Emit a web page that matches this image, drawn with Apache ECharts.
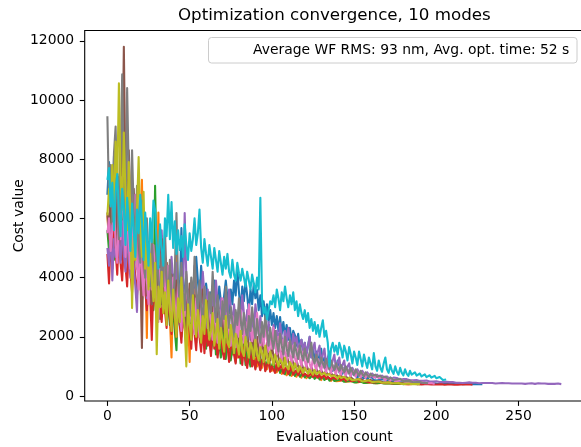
<!DOCTYPE html>
<html>
<head>
<meta charset="utf-8">
<script src="https://cdn.jsdelivr.net/npm/echarts@6/dist/echarts.min.js"></script>
<style>html,body{margin:0;padding:0;background:#fff;}#chart{width:581px;height:447px;}</style>
</head>
<body>
<div id="chart"></div>
<script>
const chartTitle = 'Optimization convergence, 10 modes';
const legendText = 'Average WF RMS: 93 nm, Avg. opt. time: 52 s';
const xLabel = 'Evaluation count';
const yLabel = 'Cost value';
const xTicks = [0, 50, 100, 150, 200, 250];
const yTicks = [0, 2000, 4000, 6000, 8000, 10000, 12000];
const colors = ['#1f77b4','#ff7f0e','#2ca02c','#d62728','#9467bd','#8c564b','#e377c2','#7f7f7f','#bcbd22','#17becf'];

const mode1 = [6800,7900,6200,5400,8100,6600,5200,7400,5800,4600,6900,5600,4900,6300,5300,4400,5900,5100,4300,5600,
4200,5300,3900,4800,3600,5100,4200,3400,4700,3900,3300,4400,3700,3100,4600,3800,3200,4300,3500,3000,
4100,3400,2900,3900,3300,5670,4000,3500,2800,3600,3100,2600,3700,3200,4700,3900,3300,4400,3600,3000,
3800,3300,2700,3500,3000,3900,3400,2800,3700,3200,2600,3400,3900,3300,2800,3600,3100,3900,3400,4300,
3500,2900,3700,3200,3900,3400,2800,3600,3100,3800,3300,3580,2900,3400,2700,3200,2600,3100,2500,2900,
2400,2800,2300,2700,2200,2670,2100,2500,2000,2400,1900,2300,1800,2200,2060,1700,2100,1600,1900,1500,
1800,1400,1700,2000,1300,1600,1200,1500,1100,1400,1600,1000,1300,900,1200,1000,1100,850,1000,900,
1200,800,1000,750,950,700,900,800,650,850,700,800,600,750,650,700,600,680,560,640,
580,620,540,600,520,580,560,500,560,520,540,480,520,500,480,520,470,500,460,490,
470,500,450,480,460,440,470,450,430,460,440,450,430,450,420,440,430,420,440,430,
420,440,410,430,420,410,430,420,410,420,430,410,420,400,420,410,400,420,410,400,410,420,400,410,400,410,400,410,400];

const mode2 = [6100,5200,7000,5800,4900,6600,5400,7300,6000,5100,6800,5500,7300,4800,6200,5300,4500,5900,6800,4300,
5600,7300,3900,4800,1960,5200,4100,3000,4600,3600,3200,6200,3100,5400,3800,2900,4500,3400,2600,1300,
3900,3000,4800,3300,2500,4100,3200,2400,3700,2800,1150,3300,2300,3600,2700,2000,3400,2600,2100,3200,
2500,3100,1900,2300,2800,1800,2100,1700,2600,2200,1600,2000,2400,1500,1900,2300,1400,1800,1700,1300,
2000,1600,1300,1800,1900,1200,1500,1400,1100,1700,1300,1000,1600,1200,950,1300,1100,900,1400,1000,
850,1150,950,800,1100,880,750,1000,850,700,950,1050,680,800,750,650,900,700,620,780,
680,600,740,640,580,720,620,560,640,600,540,660,570,520,600,550,510,580,530,500,
560,510,490,540,500,480,520,490,470,510,480,460,500,470,450,490,460,440,480,450,
440,470,440,430,460,430,420,450,430,420,440,420,410,430,420,410,430,410,400,420,410,400,410,400,410,400];

const mode3 = [5600,4900,6300,5200,4600,6800,5400,4700,7600,5800,5000,6500,5300,4400,6100,5000,4200,5700,4600,3900,
5300,4300,3600,5000,4000,3400,4700,3700,2900,7100,4200,3300,2600,4400,3500,2800,3900,3100,2400,3700,
2900,2200,1550,3400,2700,2000,3200,2500,1900,3500,2800,2100,3300,2400,1800,3000,2300,1700,2800,2200,
1600,2300,2700,1500,1900,2500,1400,2100,1800,1300,2400,1700,1250,1900,2200,1200,1600,2000,1150,1700,
1900,1100,1400,1800,1050,1500,1250,1000,1700,1150,950,1300,1500,900,1200,1400,880,1100,1300,850,
1000,1200,820,950,1100,780,900,850,740,1000,800,700,850,930,680,760,850,650,720,800,
630,700,760,600,660,720,580,640,690,560,600,650,540,580,620,520,560,600,510,550,
530,500,560,510,480,530,500,470,510,480,460,500,470,450,490,460,440,480,450,440,
470,440,430,460,430,420,450,430,420,440,420,410,430,420,410,430,410,400,420,410,400,410,420,400,410,400,410,400,410,400];

const mode4 = [4800,3800,5400,4300,6000,4900,4100,5600,4500,3900,5200,4400,3700,5000,4200,3500,4700,4000,3400,4500,
3800,3200,4300,3600,2900,4100,3400,1890,3900,3200,2700,3800,3000,2500,3600,2900,2300,3400,2700,2100,
3300,2600,2000,3100,2400,1800,2900,2300,1700,2800,2200,1600,2700,2100,1550,2600,2000,1500,2400,1450,
2300,1700,1900,1350,2400,1600,2000,1300,1800,2200,1500,1250,1900,1700,1150,1600,2100,1400,1100,1750,
1300,1500,1050,1650,1200,950,1400,1550,1000,1250,900,1350,1100,870,1200,1300,840,1050,1150,820,
1000,960,780,1150,860,800,1050,760,900,980,740,850,1000,720,800,880,700,760,900,680,
760,820,660,700,780,640,720,680,620,740,600,660,700,580,650,610,560,640,590,570,
550,620,530,570,600,510,550,580,500,540,520,490,560,480,500,530,470,490,510,470,
470,460,490,460,450,480,450,440,470,440,430,460,430,420,450,430,420,440,420,410,
430,410,420,400,420,410,400,410,420,400,410,390,410,400,390,400,410,390,400,390,
400,390,380,400,390,380,400,390,380,390,400,380,390,380,400,390,380,390,380,390,380,390,380];

const mode5 = [5000,4400,5800,3900,5300,4700,6200,5100,4500,5900,4800,4200,5600,4600,4000,5300,4400,3700,2840,4900,
4100,3500,5200,4300,3300,4800,3900,3100,4600,3700,2900,4400,3500,5600,4200,3300,2700,4000,3200,4700,
3800,3000,4500,3600,2800,4300,3400,6180,4000,3200,2600,3900,3100,4400,3600,2800,3700,2900,4200,3400,
2700,3600,2900,2300,3400,2800,3900,3200,2500,3300,2700,2200,3200,2600,3600,3000,2400,3100,2500,2000,
3000,2400,3400,2800,2200,2900,2300,1900,2800,2200,3100,2600,2100,2700,2100,1800,2600,2000,2500,2100,
1700,2400,1900,2200,1800,2460,2000,1600,2200,1800,2300,1900,1500,2100,1700,2000,1600,1720,1900,1500,
1800,1400,1700,2000,1300,1600,1800,1200,1500,1700,1100,1400,1600,1000,1300,1500,950,1200,1400,900,
1100,1300,850,1050,1200,800,1000,1100,760,950,1000,720,900,950,690,850,880,660,800,820,
640,760,770,620,720,720,600,690,680,580,660,650,570,630,620,560,610,590,550,590,
570,540,570,550,530,550,530,520,540,520,510,530,510,500,520,500,490,510,490,480,
500,480,470,490,470,460,480,460,470,450,470,460,450,470,450,460,440,460,450,440,
460,440,450,430,450,440,430,450,440,430,440,430,440,420,440,430,420,440,430,420,
440,420,430,420,430,440,420,430,420,430,420,440,420,430,410,430,420,410,430,420,
410,420,430,410,420,410,420,430,410,420,410,420,410,400,420,410,400];

const mode6 = [6200,5300,7100,5800,6600,5000,7500,6100,8800,6900,11800,7200,5800,8300,6400,5100,7000,5600,4600,6100,
4300,1620,5400,4000,3400,5000,3800,3100,4700,3500,2900,4400,3300,5300,3900,3000,4500,3400,2800,4100,
3200,2600,3900,3000,2400,3700,2900,2300,3500,2700,3800,3100,2500,3400,2800,2200,3300,2600,3600,2900,
2300,3200,2600,2100,3000,2400,2000,2900,2300,1900,2800,2200,1800,2600,2100,1700,2500,2000,1650,2400,
1900,1550,2300,1800,1500,2200,1700,1400,2100,1650,1350,2000,1550,1300,1900,1500,1250,1800,1400,1200,
1700,1350,1150,1600,1300,1100,1500,1200,1050,1400,1150,1000,1300,1100,950,1200,1000,900,1100,950,
860,1050,900,820,980,850,780,920,800,740,870,760,700,820,720,670,780,690,640,740,
660,610,700,630,590,660,600,560,630,580,540,600,560,520,580,540,500,560,520,490,
540,500,480,520,490,470,500,470,460,490,460,450,470,450,440,460,440,430,450,430,420,440,420,410,430,410,420,400,410,400,410];

const mode7 = [5500,6000,4900,5600,6700,5100,4500,6200,5300,7400,5800,4700,6400,5200,4300,5900,4800,6800,4400,3600,
5300,4200,3400,4900,3900,3100,4600,3600,5100,4100,3200,2500,4300,3400,4800,3700,2900,4400,3300,2600,
4000,3100,2400,3800,2900,2200,3600,2700,4100,3200,2500,3500,2700,2100,3300,2600,2000,3100,2500,3700,
2900,2300,3200,2500,1900,3000,2400,1800,2900,2300,3300,2600,2000,2800,2200,1700,2700,2100,1650,2600,
2000,2900,2300,1800,2500,1950,3100,2400,1850,2300,1800,2800,2100,1600,2200,1700,2500,1900,1500,2100,
1600,2300,1800,1400,2000,1500,1200,1900,1450,1150,1800,1350,1100,1700,1300,1050,1600,1250,1000,1500,
1200,950,1400,1100,900,1300,1050,870,1250,1000,840,1150,950,800,1100,900,770,1050,860,740,
1000,820,720,950,790,690,900,760,670,860,730,650,820,700,630,780,680,610,740,650,
590,700,620,570,670,600,550,640,580,530,610,560,520,590,540,500,560,520,490,540,
500,480,520,480,460,500,470,450,480,450,440,470,440,430,450,430,420,440,420,410];

const mode8 = [9450,6500,7800,5900,8200,9100,6700,5300,8000,10870,7200,6000,10400,7500,5800,8300,6200,5000,7100,5400,
4500,6600,4900,4000,6000,4600,3700,5500,4200,3400,5100,3900,3200,4800,3700,5600,4000,3300,4600,3500,
2900,4300,6180,3800,3100,4500,3500,2900,4200,3300,2700,4000,3100,4700,3600,2800,3900,3000,2500,3700,
2900,2400,3500,2800,4200,3100,2500,3400,2700,2200,3200,2600,3700,2900,2300,3000,2500,2000,2900,2400,
3300,2600,2100,2800,2300,1900,2700,2200,3000,2400,1900,2600,2100,1800,2500,2000,2700,2200,1700,2300,
1900,1600,2200,1800,1500,2100,1700,1400,2000,1600,1350,1900,1550,1300,1800,1450,1250,1700,1400,1200,
1600,1300,1150,1500,1800,1250,1100,1400,1150,1000,1300,1100,950,1250,1050,900,1200,1000,880,1100,
950,850,1050,900,800,1000,860,760,950,820,720,900,780,690,850,740,660,800,710,640,
760,680,620,720,650,600,690,620,580,660,600,560,630,580,540,600,560,520,580,540,
500,550,510,480,520,490,460,500,470,450,480,450,440,460,440,430];

const mode9 = [6100,7000,6500,7800,6200,8600,7100,10560,7400,6300,8900,6800,5600,7900,6200,2970,5400,4600,6300,8070,
5600,4700,6900,4300,5200,3600,4800,3900,3200,4500,1410,3700,3000,4200,2800,3500,2400,3900,2900,2200,
3600,2700,2000,3300,2500,4000,2900,2300,1000,3100,2400,1900,3400,2600,2000,2900,2300,1800,2700,2100,
3240,2500,1900,2200,2800,1700,2100,2600,1600,2300,1900,1500,2700,1800,1650,2400,2000,1450,2100,1750,
1400,2200,1500,1350,2000,1650,1300,1800,1600,1250,1900,1400,1200,1650,1450,1150,1700,1300,1100,1500,
1300,1050,1400,1200,1000,1250,1150,950,1300,1000,900,1150,1050,850,1100,950,820,1000,900,780,
950,850,760,900,800,720,880,740,690,820,720,660,780,700,640,740,670,610,700,640,
590,680,610,570,650,590,550,620,570,530,590,550,510,570,530,490,550,510,480,530,
500,470,510,480,460,490,460,450,480,450,440,460,440,430,450,430,420,440,420,410,430,410,400,420,410,400,410,400,410,400,400];

const mode10 = [7300,7700,6400,7200,5600,6900,7500,6200,5400,7000,6300,5100,6700,5800,4900,6500,5600,4700,6300,5500,
6800,5900,4600,6200,5300,4400,6000,5200,6600,6280,5100,4300,5800,5000,4400,6000,5400,6800,5300,6550,
5000,5900,4800,5600,4930,5400,4700,5800,5100,4600,5500,4900,5300,6000,5100,5500,6300,5000,4500,5300,
4800,4400,5100,4700,4300,5000,4600,4200,4900,4500,4100,4700,4300,4800,4200,4000,4600,4100,3900,4500,
4150,3900,4300,4000,3700,4200,3900,3600,4100,3800,3500,4000,3600,6700,3300,2800,3000,2600,2900,3200,
3100,3400,3000,3600,3300,2900,3500,3200,3700,3300,3000,3400,3100,3500,2900,3200,2700,3100,2800,2600,
2900,2500,2800,2300,2600,2200,2500,2100,2400,2000,2300,2560,2000,2200,1800,1000,1600,1800,1500,1700,
1400,1800,1600,1300,1700,1500,1200,1650,1400,1100,1500,1300,1050,1500,1250,1000,1400,1150,950,1300,
1100,900,1450,1000,850,1200,950,820,1100,1300,900,780,1050,850,750,1000,820,720,950,780,
700,900,750,680,850,720,660,800,690,640,760,660,620,730,640,600,700,620,580,680,
600,560,640,580,540,600,560];

const modes = [mode1, mode2, mode3, mode4, mode5, mode6, mode7, mode8, mode9, mode10];

const chart = echarts.init(document.getElementById('chart'), null, {renderer: 'canvas'});
const FONT = 'DejaVu Sans';
const gridLeft = 84.7, gridTop = 30.5, gridW = 499.3, gridH = 370.5;

const series = modes.map((arr, k) => ({
  type: 'line',
  name: 'mode ' + (k + 1),
  data: arr.map((v, i) => [i, v]),
  showSymbol: false,
  symbol: 'none',
  sampling: null,
  lineStyle: {color: colors[k], width: 2.1, join: 'round', cap: 'butt'},
  itemStyle: {color: colors[k]},
  emphasis: {disabled: true},
  silent: true,
  clip: true
}));

chart.setOption({
  animation: false,
  backgroundColor: '#ffffff',
  title: {
    text: chartTitle,
    left: gridLeft + gridW / 2,
    textAlign: 'center',
    top: 7,
    padding: 0,
    textStyle: {fontFamily: FONT, fontSize: 16.7, fontWeight: 'normal', color: '#000'}
  },
  grid: {
    left: gridLeft, top: gridTop, width: gridW, height: gridH,
    show: true, borderColor: '#000', borderWidth: 1.1, backgroundColor: 'transparent',
    containLabel: false,
    outerBoundsMode: 'none'
  },
  xAxis: {
    type: 'value',
    min: -13.8, max: 289.8,
    name: xLabel,
    nameLocation: 'middle',
    nameGap: 29,
    nameMoveOverlap: false,
    nameTextStyle: {fontFamily: FONT, fontSize: 13.9, color: '#000'},
    axisLine: {show: false, onZero: false},
    splitLine: {show: false},
    axisTick: {show: true, length: 4.9, lineStyle: {color: '#000', width: 1.1}, customValues: xTicks},
    axisLabel: {show: true, margin: 8, fontFamily: FONT, fontSize: 13.9, color: '#000', customValues: xTicks, formatter: v => String(v)}
  },
  yAxis: {
    type: 'value',
    min: -169, max: 12348,
    name: yLabel,
    nameLocation: 'middle',
    nameRotate: 90,
    nameGap: 58,
    nameMoveOverlap: false,
    nameTextStyle: {fontFamily: FONT, fontSize: 13.9, color: '#000'},
    axisLine: {show: false, onZero: false},
    splitLine: {show: false},
    axisTick: {show: true, length: 4.9, lineStyle: {color: '#000', width: 1.1}, customValues: yTicks},
    axisLabel: {show: true, margin: 10.5, fontFamily: FONT, fontSize: 13.9, color: '#000', customValues: yTicks, formatter: v => String(v)}
  },
  graphic: [
    {
      type: 'rect',
      shape: {x: 208.5, y: 37.5, width: 368.5, height: 25.5, r: 3},
      style: {fill: 'rgba(255,255,255,0.8)', stroke: '#cccccc', lineWidth: 1},
      z: 100
    },
    {
      type: 'text',
      x: 253, y: 50.5,
      style: {text: legendText, fontFamily: FONT, fontSize: 13.9, fill: '#000', verticalAlign: 'middle', align: 'left'},
      z: 101
    }
  ],
  series: series
});
</script>
</body>
</html>
